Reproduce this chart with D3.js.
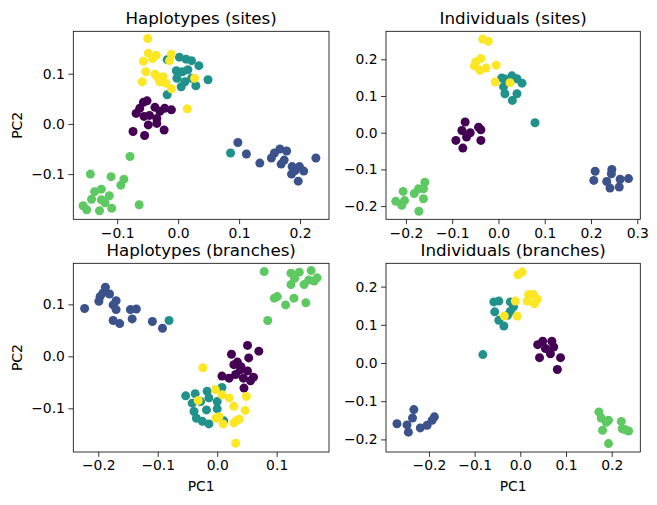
<!DOCTYPE html>
<html><head><meta charset="utf-8">
<script src="https://cdn.jsdelivr.net/npm/d3@7"></script>
<style>body{margin:0;background:#fff}svg{display:block}</style>
</head><body><svg id="c" width="657" height="505"></svg>
<script>
const groupColors = ["#440154", "#3b528b", "#21918c", "#5ec962", "#fde725"];
const panelTitles = ["Haplotypes (sites)", "Individuals (sites)", "Haplotypes (branches)", "Individuals (branches)"];

// Haplotypes (sites): [x, y] per group
const hapSitesPurple = [[-0.051,0.046],[-0.057,0.043],[-0.063,0.031],[-0.038,0.033],[-0.030,0.025],[-0.022,0.031],[-0.011,0.028],[-0.069,0.021],[-0.056,0.015],[-0.047,0.017],[-0.035,0.011],[-0.049,-0.002],[-0.035,0.001],[-0.074,-0.015],[-0.055,-0.023],[-0.023,-0.012]];
const hapSitesBlue = [[0.098,-0.037],[0.112,-0.060],[0.134,-0.078],[0.153,-0.068],[0.167,-0.050],[0.178,-0.054],[0.158,-0.058],[0.169,-0.080],[0.187,-0.085],[0.199,-0.085],[0.206,-0.094],[0.186,-0.100],[0.197,-0.114],[0.226,-0.068],[0.192,-0.093],[0.174,-0.072]];
const hapSitesTeal = [[-0.018,0.128],[0.002,0.133],[0.013,0.129],[0.022,0.126],[0.034,0.116],[-0.003,0.106],[0.007,0.104],[0.016,0.108],[-0.002,0.091],[0.011,0.084],[0.022,0.091],[0.029,0.076],[0.049,0.088],[0.005,0.074],[-0.018,0.058],[0.086,-0.058]];
const hapSitesGreen = [[-0.079,-0.065],[-0.144,-0.100],[-0.110,-0.105],[-0.089,-0.110],[-0.094,-0.122],[-0.137,-0.135],[-0.126,-0.130],[-0.113,-0.143],[-0.142,-0.150],[-0.126,-0.151],[-0.156,-0.163],[-0.150,-0.171],[-0.129,-0.173],[-0.109,-0.168],[-0.064,-0.161],[-0.120,-0.157]];
const hapSitesYellow = [[-0.050,0.170],[-0.049,0.141],[-0.057,0.125],[-0.042,0.130],[-0.036,0.137],[-0.011,0.139],[-0.014,0.126],[-0.053,0.104],[-0.038,0.099],[-0.033,0.092],[-0.059,0.084],[-0.025,0.094],[-0.020,0.081],[-0.030,0.084],[-0.011,0.070],[0.027,0.091],[0.015,0.030]];

// Individuals (sites)
const indSitesPurple = [[-0.072,0.029],[-0.079,0.006],[-0.061,0.000],[-0.069,-0.012],[-0.043,0.015],[-0.038,0.008],[-0.092,-0.021],[-0.077,-0.042],[-0.038,-0.021]];
const indSitesBlue = [[0.209,-0.105],[0.206,-0.130],[0.245,-0.100],[0.244,-0.112],[0.234,-0.133],[0.241,-0.151],[0.263,-0.127],[0.281,-0.125],[0.261,-0.148]];
const indSitesTeal = [[0.007,0.149],[0.014,0.146],[0.029,0.155],[0.040,0.147],[0.051,0.135],[0.022,0.138],[0.011,0.125],[0.014,0.106],[0.040,0.106],[0.030,0.088],[0.079,0.027]];
const indSitesGreen = [[-0.206,-0.160],[-0.222,-0.187],[-0.209,-0.198],[-0.203,-0.185],[-0.182,-0.166],[-0.173,-0.153],[-0.159,-0.135],[-0.162,-0.153],[-0.162,-0.180],[-0.172,-0.214]];
const indSitesYellow = [[-0.034,0.255],[-0.022,0.249],[-0.038,0.202],[-0.049,0.193],[-0.052,0.182],[-0.040,0.170],[-0.027,0.176],[-0.005,0.184],[-0.007,0.138],[0.025,0.136]];

// Haplotypes (branches)
const hapBranchesPurple = [[0.051,0.021],[0.070,0.010],[0.024,0.004],[0.053,-0.003],[0.034,-0.011],[0.028,-0.016],[0.039,-0.026],[0.051,-0.028],[0.008,-0.038],[0.020,-0.042],[0.044,-0.042],[0.061,-0.040],[0.056,-0.047],[0.045,-0.061],[0.031,-0.035],[0.040,-0.020]];
const hapBranchesBlue = [[-0.223,0.092],[-0.199,0.106],[-0.197,0.115],[-0.188,0.133],[-0.181,0.120],[-0.170,0.107],[-0.175,0.099],[-0.170,0.090],[-0.175,0.069],[-0.164,0.063],[-0.146,0.090],[-0.136,0.091],[-0.143,0.072],[-0.109,0.067],[-0.092,0.054],[-0.192,0.122]];
const hapBranchesTeal = [[-0.053,-0.076],[-0.037,-0.072],[-0.017,-0.067],[-0.014,-0.080],[0.008,-0.060],[0.000,-0.087],[-0.042,-0.090],[-0.039,-0.106],[-0.018,-0.103],[0.000,-0.101],[-0.035,-0.119],[-0.025,-0.125],[-0.014,-0.130],[0.011,-0.124],[-0.028,-0.087],[-0.081,0.069]];
const hapBranchesGreen = [[0.079,0.163],[0.124,0.160],[0.138,0.162],[0.158,0.165],[0.168,0.151],[0.154,0.147],[0.146,0.138],[0.124,0.138],[0.101,0.115],[0.096,0.112],[0.115,0.099],[0.129,0.112],[0.149,0.103],[0.085,0.069],[0.163,0.145],[0.130,0.150]];
const hapBranchesYellow = [[-0.024,-0.022],[-0.003,-0.064],[0.008,-0.074],[0.020,-0.080],[-0.032,-0.085],[0.049,-0.077],[0.028,-0.096],[0.047,-0.104],[-0.002,-0.119],[0.010,-0.130],[0.028,-0.128],[0.037,-0.121],[0.031,-0.167],[0.003,-0.116],[0.032,-0.124]];

// Individuals (branches)
const indBranchesPurple = [[0.038,0.048],[0.049,0.057],[0.069,0.057],[0.073,0.042],[0.055,0.038],[0.066,0.024],[0.042,0.014],[0.088,0.014],[0.081,-0.017]];
const indBranchesBlue = [[-0.270,-0.159],[-0.248,-0.162],[-0.245,-0.181],[-0.233,-0.122],[-0.236,-0.144],[-0.219,-0.170],[-0.204,-0.163],[-0.193,-0.150],[-0.188,-0.141]];
const indBranchesTeal = [[-0.058,0.160],[-0.047,0.162],[-0.056,0.134],[-0.022,0.160],[-0.015,0.147],[-0.022,0.135],[-0.047,0.112],[-0.036,0.097],[-0.028,0.125],[-0.082,0.022]];
const indBranchesGreen = [[0.172,-0.128],[0.177,-0.144],[0.193,-0.150],[0.180,-0.176],[0.221,-0.153],[0.223,-0.172],[0.237,-0.178],[0.230,-0.175],[0.193,-0.211],[0.188,-0.155]];
const indBranchesYellow = [[-0.005,0.231],[0.004,0.238],[0.018,0.179],[0.029,0.179],[0.037,0.167],[0.015,0.162],[0.031,0.155],[-0.011,0.162],[-0.007,0.123],[-0.035,0.123]];

const xTicks = [[-0.1,0,0.1,0.2],[-0.2,-0.1,0,0.1,0.2,0.3],[-0.2,-0.1,0,0.1],[-0.2,-0.1,0,0.1,0.2]];
const yTicks = [[-0.1,0,0.1],[-0.2,-0.1,0,0.1,0.2],[-0.1,0,0.1],[-0.2,-0.1,0,0.1,0.2]];
const xLimits = [[-0.172,0.2475],[-0.243,0.3065],[-0.242,0.188],[-0.294,0.2626]];
const yLimits = [[-0.190,0.1845],[-0.236,0.2763],[-0.184,0.179],[-0.233,0.261]];

const panels = [
  [hapSitesPurple, hapSitesBlue, hapSitesTeal, hapSitesGreen, hapSitesYellow],
  [indSitesPurple, indSitesBlue, indSitesTeal, indSitesGreen, indSitesYellow],
  [hapBranchesPurple, hapBranchesBlue, hapBranchesTeal, hapBranchesGreen, hapBranchesYellow],
  [indBranchesPurple, indBranchesBlue, indBranchesTeal, indBranchesGreen, indBranchesYellow]
];

const boxes = [
  {l:73.3, r:329, t:31.3, b:219.3},
  {l:386, r:640.3, t:31.3, b:219.3},
  {l:73.3, r:329, t:263.3, b:452},
  {l:386, r:640.3, t:263.3, b:452}
];

const svg = d3.select("#c");
const font = "DejaVu Sans, sans-serif";
const fmt = v => d3.format(".1f")(v).replace("-", "\u2212");

panels.forEach((groups, i) => {
  const bx = boxes[i];
  const x = d3.scaleLinear().domain(xLimits[i]).range([bx.l, bx.r]);
  const y = d3.scaleLinear().domain(yLimits[i]).range([bx.b, bx.t]);
  const g = svg.append("g");

  const pts = g.append("g");
  groups.forEach((arr, gi) => {
    pts.selectAll(null).data(arr).enter().append("circle")
      .attr("cx", d => x(d[0])).attr("cy", d => y(d[1]))
      .attr("r", 4.5).attr("fill", groupColors[gi]);
  });

  const xa = g.append("g").attr("transform", `translate(0,${bx.b})`)
    .call(d3.axisBottom(x).tickValues(xTicks[i]).tickFormat(fmt).tickSize(4.9).tickPadding(3.5).tickSizeOuter(0));
  const ya = g.append("g").attr("transform", `translate(${bx.l},0)`)
    .call(d3.axisLeft(y).tickValues(yTicks[i]).tickFormat(fmt).tickSize(4.9).tickPadding(3.5).tickSizeOuter(0));
  [xa, ya].forEach(a => {
    a.select(".domain").remove();
    a.selectAll("line").attr("stroke", "#000").attr("stroke-width", 0.8);
    a.selectAll("text").attr("font-family", font).attr("font-size", "13.9px").attr("fill", "#000");
  });

  g.append("rect").attr("x", bx.l).attr("y", bx.t)
    .attr("width", bx.r - bx.l).attr("height", bx.b - bx.t)
    .attr("fill", "none").attr("stroke", "#000").attr("stroke-width", 0.8);

  g.append("text").attr("x", (bx.l + bx.r) / 2).attr("y", bx.t - 7.5)
    .attr("text-anchor", "middle").attr("font-family", font).attr("font-size", "16.7px")
    .text(panelTitles[i]);

  if (i % 2 === 0) {
    g.append("text").attr("transform", `translate(22,${(bx.t + bx.b) / 2}) rotate(-90)`)
      .attr("text-anchor", "middle").attr("font-family", font).attr("font-size", "13.9px")
      .text("PC2");
  }
  if (i >= 2) {
    g.append("text").attr("x", (bx.l + bx.r) / 2).attr("y", 491)
      .attr("text-anchor", "middle").attr("font-family", font).attr("font-size", "13.9px")
      .text("PC1");
  }
});
</script></body></html>
